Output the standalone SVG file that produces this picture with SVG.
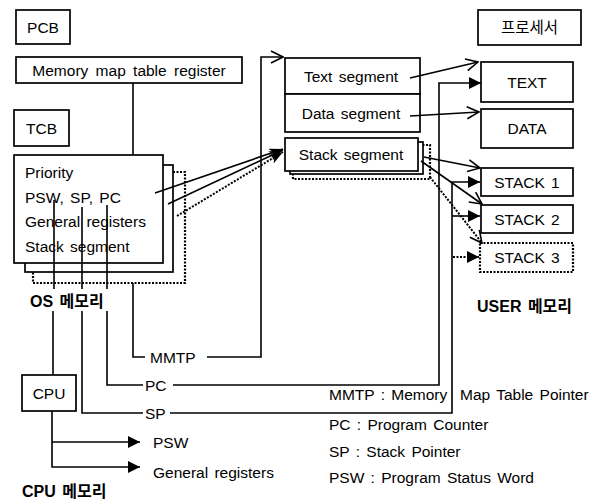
<svg xmlns="http://www.w3.org/2000/svg" width="600" height="500" viewBox="0 0 600 500">
<style>
text{font-family:"Liberation Sans","Noto Sans CJK KR",sans-serif;font-size:15.5px;word-spacing:2px;fill:#000}
.m{text-anchor:middle}
.b{font-weight:bold;font-size:16px;word-spacing:2px}
.box{fill:#fff;stroke:#000;stroke-width:1.7}
.dbox{fill:#fff;stroke:#000;stroke-width:2.2;stroke-dasharray:2 1.5}
.ln{fill:none;stroke:#000;stroke-width:1.6}
.dl{fill:none;stroke:#000;stroke-width:2;stroke-dasharray:2 1.5}
</style>
<defs>
<marker id="open" viewBox="0 0 14 14" refX="13" refY="7" markerWidth="14" markerHeight="14" markerUnits="userSpaceOnUse" orient="auto"><path d="M1,1 L13,7 L1,13" fill="none" stroke="#000" stroke-width="1.6"/></marker>
<marker id="sharp" viewBox="0 0 14 10" refX="14" refY="5" markerWidth="14" markerHeight="10" markerUnits="userSpaceOnUse" orient="auto"><path d="M0,0 L14,5 L0,10 L4,5 z" fill="#000"/></marker>
<marker id="fill" viewBox="0 0 12 12" refX="12" refY="6" markerWidth="12" markerHeight="12" markerUnits="userSpaceOnUse" orient="auto"><path d="M0,0 L12,6 L0,12 z" fill="#000"/></marker>
</defs>
<rect width="600" height="500" fill="#fff"/>

<g id="pcb"><rect class="box" x="16" y="10" width="54" height="34"/><text class="m" x="43" y="32.5">PCB</text></g>
<g id="mmtr"><rect class="box" x="16" y="57" width="226" height="26"/><text class="m" x="129" y="75.5" style="word-spacing:3px">Memory map table register</text></g>
<g id="tcb"><rect class="box" x="14" y="110" width="55" height="36"/><text class="m" x="41.5" y="133.5">TCB</text></g>

<g id="tcb-stack">
<rect class="dbox" x="33" y="172" width="152" height="111"/>
<rect class="box" x="25" y="165" width="148" height="107"/>
<rect class="box" x="14" y="155" width="149" height="108"/>
<text x="25" y="178">Priority</text>
<text x="25" y="203">PSW, SP, PC</text>
<text x="25" y="227">General registers</text>
<text x="25" y="252">Stack segment</text>
</g>

<g id="segments">
<rect class="box" x="285" y="58" width="135" height="36"/>
<text class="m" x="351" y="81.5">Text segment</text>
<rect class="box" x="285" y="94" width="135" height="38"/>
<text class="m" x="351" y="118.5">Data segment</text>
</g>
<g id="stack-seg">
<rect class="dbox" x="293" y="145" width="137" height="34"/>
<rect class="box" x="290" y="142" width="133" height="32"/>
<rect class="box" x="285" y="138" width="133" height="33"/>
<text class="m" x="351" y="160">Stack segment</text>
</g>

<g id="proc"><rect class="box" x="478" y="10" width="103" height="35"/><text class="m" x="529.5" y="33">프로세서</text></g>
<g id="text-box"><rect class="box" x="481" y="62" width="92" height="40"/><text class="m" x="527" y="87.5">TEXT</text></g>
<g id="data-box"><rect class="box" x="481" y="109" width="92" height="39"/><text class="m" x="527" y="134">DATA</text></g>
<g id="stack1"><rect class="box" x="481" y="168" width="92" height="28"/><text class="m" x="527" y="187.5">STACK 1</text></g>
<g id="stack2"><rect class="box" x="481" y="205" width="92" height="28"/><text class="m" x="527" y="224.5">STACK 2</text></g>
<g id="stack3"><rect class="dbox" x="480" y="243" width="93" height="29"/><text class="m" x="527" y="263">STACK 3</text></g>

<g id="cpu"><rect class="box" x="22" y="375" width="54" height="36"/><text class="m" x="49" y="398.5">CPU</text></g>

<g id="labels">
<text class="b" x="30" y="307">OS 메모리</text>
<text class="b" x="477" y="312">USER 메모리</text>
<text class="b" x="22" y="497">CPU 메모리</text>
<text x="150" y="363">MMTP</text>
<text x="145" y="391">PC</text>
<text x="145" y="419">SP</text>
<text x="153" y="448">PSW</text>
<text x="153" y="478">General registers</text>
<text x="329" y="400">MMTP : Memory</text>
<text x="460" y="400">Map Table Pointer</text>
<text x="329" y="430">PC : Program Counter</text>
<text x="329" y="457">SP : Stack Pointer</text>
<text x="329" y="483">PSW : Program Status Word</text>
</g>

<g id="connectors">
<path class="ln" d="M133,83 V155 M133,283 V357 H145"/>
<path class="ln" d="M207,357 H261 V57 H283" marker-end="url(#open)"/>
<path class="ln" d="M107,205 V289 M107,311 V385 H143"/>
<path class="ln" d="M173,385 H439 V83 H481" marker-end="url(#fill)"/>
<path class="ln" d="M82,207 V289 M82,311 V413 H143"/>
<path class="ln" d="M170,413 H452 V182 H480" marker-end="url(#fill)"/>
<path class="ln" d="M452,216 H480" marker-end="url(#fill)"/>
<path class="dl" d="M453,257 H479" marker-end="url(#fill)"/>
<path class="ln" d="M54,200 V289 M53,311 V375"/>
<path class="ln" d="M52,411 V467 H140" marker-end="url(#fill)"/>
<path class="ln" d="M52,442 H140" marker-end="url(#fill)"/>
<path class="ln" d="M155,193 L283,149" marker-end="url(#sharp)"/>
<path class="ln" d="M168,204 L283,150" marker-end="url(#sharp)"/>
<path class="dl" d="M177,216 L283,152" marker-end="url(#sharp)"/>
<path class="ln" d="M410,78 L478,62" marker-end="url(#open)"/>
<path class="ln" d="M410,116 L479,112" marker-end="url(#open)"/>
<path class="ln" d="M424,157 L480,168" marker-end="url(#open)"/>
<path class="ln" d="M421,161 L482,204" marker-end="url(#open)"/>
<path class="dl" d="M430,177 L482,243" marker-end="url(#open)"/>
</g>
</svg>
